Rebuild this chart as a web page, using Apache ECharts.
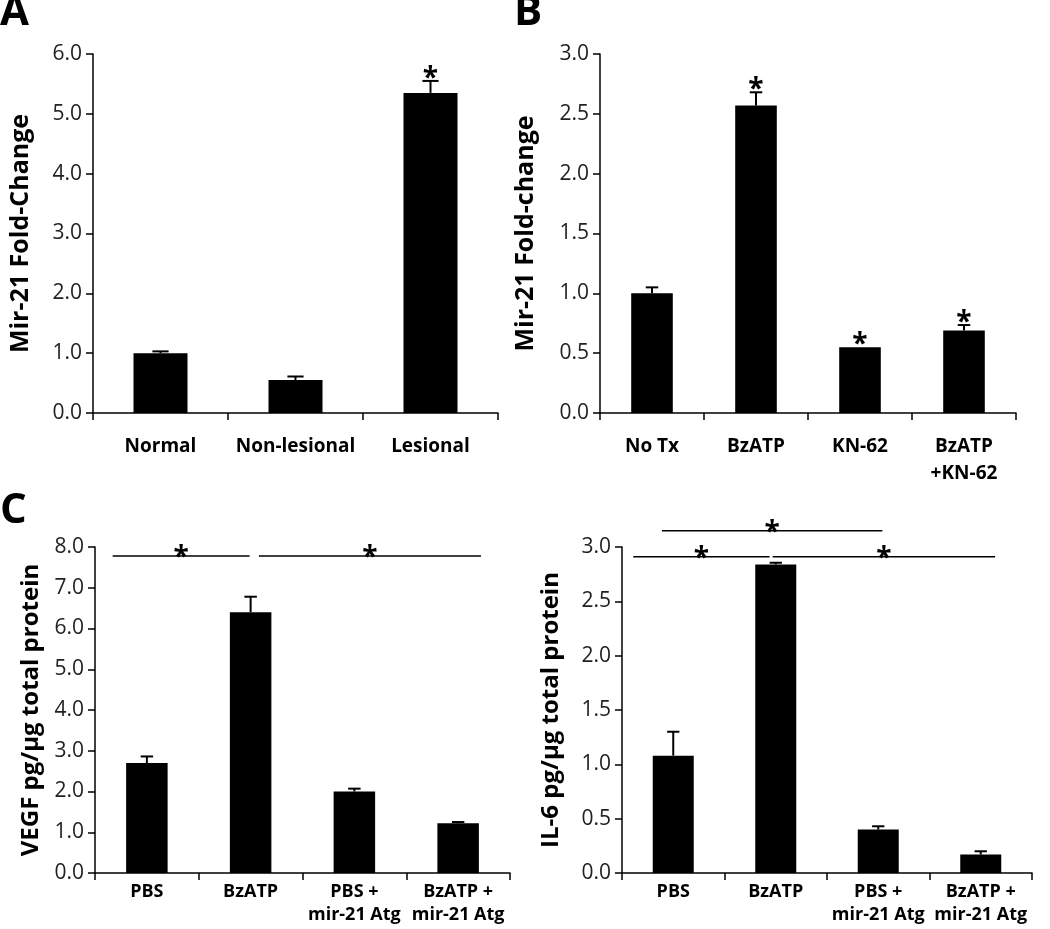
<!DOCTYPE html>
<html>
<head>
<meta charset="utf-8">
<script src="https://cdn.jsdelivr.net/npm/echarts@6/dist/echarts.min.js"></script>
<style>
  html, body { margin: 0; padding: 0; background: #fff; }
  #chart { width: 1050px; height: 929px; }
</style>
</head>
<body>
<div id="chart"></div>
<script>
  // panel A
  const catsA = ['Normal', 'Non-lesional', 'Lesional'];
  const valsA = [1.0, 0.55, 5.35];
  const errsA = [0.03, 0.06, 0.2];
  const starsA = ['', '', '*'];

  // panel B
  const catsB = ['No Tx', 'BzATP', 'KN-62', 'BzATP\n+KN-62'];
  const valsB = [1.0, 2.57, 0.55, 0.69];
  const errsB = [0.05, 0.11, 0.0, 0.045];
  const starsB = ['', '*', '*', '*'];

  // panel C
  const catsC = ['PBS', 'BzATP', 'PBS +\nmir-21 Atg', 'BzATP +\nmir-21 Atg'];
  const vegfVals = [2.7, 6.4, 2.0, 1.22];
  const vegfErrs = [0.16, 0.38, 0.07, 0.03];
  const il6Vals = [1.08, 2.84, 0.4, 0.17];
  const il6Errs = [0.22, 0.015, 0.03, 0.03];

  // significance brackets: [from, to, level] in category units (0..n) / axis units
  const vegfBrackets = [[0.17, 1.49, 7.78], [1.58, 3.72, 7.78]];
  const il6Brackets = [[0.11, 1.44, 2.91], [1.47, 3.64, 2.91], [0.39, 2.54, 3.15]];

  const FONT = '"Open Sans", sans-serif';

  const grids = [
    { left: 93, top: 54, width: 405, height: 359 },
    { left: 600, top: 54, width: 416, height: 359 },
    { left: 95, top: 547, width: 415, height: 326 },
    { left: 622, top: 547, width: 410, height: 326 },
  ];

  const catAxis = (gridIndex, data, margin, lineHeight, fontSize) => ({
    type: 'category',
    gridIndex,
    data,
    boundaryGap: true,
    axisLine: { lineStyle: { color: '#000', width: 1.5 } },
    axisTick: { show: true, interval: 0, length: 7, lineStyle: { color: '#000', width: 1.5 } },
    axisLabel: {
      interval: 0,
      margin,
      color: '#000',
      fontFamily: FONT,
      fontWeight: 'bold',
      fontSize,
      lineHeight,
    },
  });

  const valAxis = (gridIndex, max, interval, name, nameGap, nameSize) => ({
    type: 'value',
    gridIndex,
    min: 0,
    max,
    interval,
    name,
    nameLocation: 'middle',
    nameGap,
    nameTextStyle: { color: '#000', fontFamily: FONT, fontWeight: 'bold', fontSize: nameSize },
    splitLine: { show: false },
    axisLine: { show: true, lineStyle: { color: '#000', width: 1.5 } },
    axisTick: { show: true, length: 7, lineStyle: { color: '#000', width: 1.5 } },
    axisLabel: {
      margin: 11,
      color: '#222',
      fontFamily: FONT,
      fontSize: 21,
      formatter: (v) => v.toFixed(1),
    },
  });

  const hiddenAxis = (gridIndex) => ({
    type: 'value',
    gridIndex,
    min: 0,
    max: 4,
    show: false,
    splitLine: { show: false },
  });

  const barSeries = (idx, vals) => ({
    type: 'bar',
    xAxisIndex: idx,
    yAxisIndex: idx,
    data: vals,
    barWidth: '40%',
    itemStyle: { color: '#000' },
    silent: true,
  });

  const errorSeries = (idx, vals, errs, stars) => ({
    type: 'custom',
    xAxisIndex: idx,
    yAxisIndex: idx,
    data: vals.map((v, i) => [i, v, errs[i]]),
    z: 5,
    silent: true,
    renderItem: (params, api) => {
      const i = api.value(0);
      const v = api.value(1);
      const e = api.value(2);
      const base = api.coord([i, v]);
      const top = api.coord([i, v + e]);
      const half = api.size([1, 0])[0] * 0.06;
      const children = [];
      if (e > 0) {
        children.push({
          type: 'line',
          shape: { x1: base[0], y1: base[1], x2: top[0], y2: top[1] },
          style: { stroke: '#000', lineWidth: 2 },
        });
        children.push({
          type: 'line',
          shape: { x1: top[0] - half, y1: top[1], x2: top[0] + half, y2: top[1] },
          style: { stroke: '#000', lineWidth: 2 },
        });
      }
      const star = stars ? stars[params.dataIndex] : '';
      if (star) {
        children.push({
          type: 'text',
          style: {
            text: star,
            x: top[0],
            y: top[1] - 2,
            align: 'center',
            verticalAlign: 'middle',
            fill: '#000',
            font: 'bold 28px ' + FONT,
          },
        });
      }
      return { type: 'group', children };
    },
  });

  const bracketSeries = (xIdx, yIdx, brackets) => ({
    type: 'custom',
    xAxisIndex: xIdx,
    yAxisIndex: yIdx,
    data: brackets,
    clip: false,
    silent: true,
    renderItem: (params, api) => {
      const a = api.coord([api.value(0), api.value(2)]);
      const b = api.coord([api.value(1), api.value(2)]);
      return {
        type: 'group',
        children: [
          {
            type: 'line',
            shape: { x1: a[0], y1: a[1], x2: b[0], y2: b[1] },
            style: { stroke: '#000', lineWidth: 1.5 },
          },
          {
            type: 'text',
            style: {
              text: '*',
              x: (a[0] + b[0]) / 2,
              y: a[1] + 2,
              align: 'center',
              verticalAlign: 'middle',
              fill: '#000',
              font: 'bold 28px ' + FONT,
            },
          },
        ],
      };
    },
  });

  const panelLetter = (text, left, top) => ({
    type: 'text',
    left,
    top,
    style: { text, fill: '#000', font: 'bold 42px ' + FONT },
  });

  const chart = echarts.init(document.getElementById('chart'), null, { renderer: 'canvas' });

  chart.setOption({
    animation: false,
    backgroundColor: '#fff',
    grid: grids,
    xAxis: [
      catAxis(0, catsA, 20, 27, 19),
      catAxis(1, catsB, 20, 27, 19),
      catAxis(2, catsC, 7, 23, 18),
      catAxis(3, catsC, 7, 23, 18),
      hiddenAxis(2),
      hiddenAxis(3),
    ],
    yAxis: [
      valAxis(0, 6, 1, 'Mir-21 Fold-Change', 60, 25),
      valAxis(1, 3, 0.5, 'Mir-21 Fold-change', 62, 25),
      valAxis(2, 8, 1, 'VEGF pg/µg total protein', 52, 24),
      valAxis(3, 3, 0.5, 'IL-6 pg/µg total protein', 59, 24),
    ],
    series: [
      barSeries(0, valsA),
      errorSeries(0, valsA, errsA, starsA),
      barSeries(1, valsB),
      errorSeries(1, valsB, errsB, starsB),
      barSeries(2, vegfVals),
      errorSeries(2, vegfVals, vegfErrs, null),
      barSeries(3, il6Vals),
      errorSeries(3, il6Vals, il6Errs, null),
      bracketSeries(4, 2, vegfBrackets),
      bracketSeries(5, 3, il6Brackets),
    ],
    graphic: [
      panelLetter('A', 0, -8),
      panelLetter('B', 514, -8),
      panelLetter('C', 0, 490),
    ],
  });
</script>
</body>
</html>
